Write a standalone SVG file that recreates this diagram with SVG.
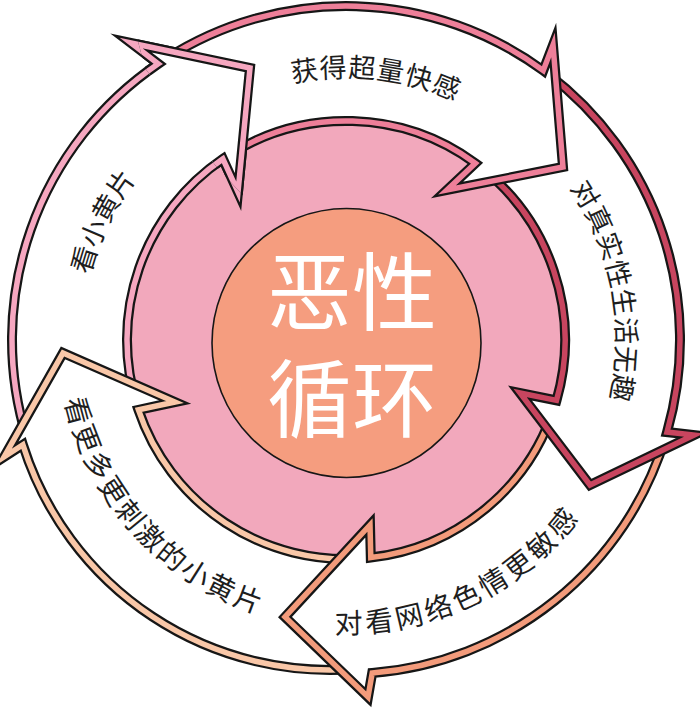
<svg xmlns="http://www.w3.org/2000/svg" width="700" height="711" viewBox="0 0 700 711">
<style>
.body{fill:#fff;stroke:#161616;stroke-width:10;stroke-linejoin:miter;stroke-miterlimit:10}
.line{fill:none;stroke-width:5.5;stroke-linejoin:miter;stroke-miterlimit:10}
.c1{stroke:#ee7f99}.c2{stroke:#c8455f}.c3{stroke:#f39b7b}.c4{stroke:#f9c7a8}.c5{stroke:#f6a7c0}
.lbl{font-family:"Noto Sans CJK SC","Noto Sans CJK JP",sans-serif;fill:#1e1e1e}
.ctr{font-family:"Noto Sans CJK SC","Noto Sans CJK JP",sans-serif;fill:#fff;font-size:85px;text-anchor:middle}
</style>
<defs>
<path id="p1" d="M165.56,58.94 A334,334 0 0 1 543.26,70.48 L553,45 L563,167 L447,190 L475.34,163.28 A219,219 0 0 0 227.69,155.71 Z"/>
<path id="p2" d="M547.01,73.25 A334,334 0 0 1 667.06,432.06 L694,435 L590,485 L520,393 L556.52,400.36 A219,219 0 0 0 477.80,165.10 Z"/>
<path id="p3" d="M665.40,437.65 A334,334 0 0 1 372.21,672.97 L368,697 L285,617 L370,525 L370.79,557.59 A219,219 0 0 0 555.43,404.03 Z"/>
<path id="p4" d="M361,668.5 A322,322 0 0 1 22.9,444.8 L4,457 L63,353 L175,402 L138.44,409.85 A219,219 0 0 0 363.18,558.32 Z"/>
<path id="p5" d="M26.94,438.77 A334,334 0 0 1 158.27,63.76 L131,43 L250,68 L238,192 L222.90,158.87 A219,219 0 0 0 137.25,406.22 Z"/>
<path id="t1" d="M134.83,183.74 A262.7,262.7 0 0 1 586.92,235.25"/>
<path id="t2" d="M435.57,84.97 A270.3,270.3 0 0 1 522.14,545.03"/>
<path id="t3" d="M179.70,581.97 A293.6,293.6 0 0 0 638.70,363.04"/>
<path id="t4" d="M72.01,252.56 A287.6,287.6 0 0 0 407.27,621.00"/>
<path id="t5" d="M127.20,488.08 A264.2,264.2 0 0 1 327.11,76.48"/>
<clipPath id="head5"><polygon points="135,30 272,55 258,212 215,165 145,68"/></clipPath>
</defs>

<g id="core">
<circle cx="346" cy="340" r="218" fill="#f2a8bc"/>
<circle cx="346.5" cy="343" r="134.5" fill="#f59d7f" stroke="#161616" stroke-width="1.6"/>
<text class="ctr"><tspan x="352" y="324">恶性</tspan><tspan x="352" y="431">循环</tspan></text>
</g>

<g id="cycle">
<g id="step-5">
<use href="#p5" class="body"/><use href="#p5" class="line c5"/>
<text class="lbl" font-size="27"><textPath href="#t5" startOffset="50%" text-anchor="middle">看小黄片</textPath></text>
</g>
<g id="step-4">
<use href="#p4" class="body"/><use href="#p4" class="line c4"/>
<text class="lbl" font-size="28" letter-spacing="2.4"><textPath href="#t4" startOffset="50%" text-anchor="middle">看更多更刺激的小黄片</textPath></text>
</g>
<g id="step-3">
<use href="#p3" class="body"/><use href="#p3" class="line c3"/>
<text class="lbl" font-size="28" letter-spacing="3.5"><textPath href="#t3" startOffset="50%" text-anchor="middle">对看网络色情更敏感</textPath></text>
</g>
<g id="step-2">
<use href="#p2" class="body"/><use href="#p2" class="line c2"/>
<text class="lbl" font-size="27" letter-spacing="0.7"><textPath href="#t2" startOffset="50%" text-anchor="middle">对真实性生活无趣</textPath></text>
</g>
<g id="step-1">
<use href="#p1" class="body"/><use href="#p1" class="line c1"/>
<text class="lbl" font-size="27" letter-spacing="0.9"><textPath href="#t1" startOffset="50%" text-anchor="middle">获得超量快感</textPath></text>
</g>
<g id="step-5-head" clip-path="url(#head5)">
<use href="#p5" class="body"/><use href="#p5" class="line c5"/>
</g>
</g>
</svg>
